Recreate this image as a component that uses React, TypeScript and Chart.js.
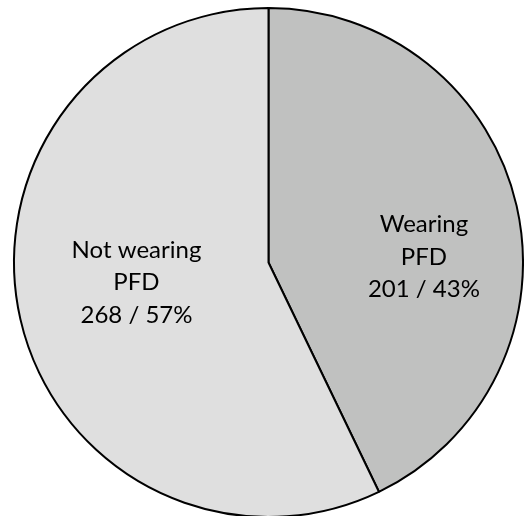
import React, { useEffect, useRef } from "react";
import { Chart, registerables } from "chart.js";

Chart.register(...registerables);

const categories = ["Wearing PFD", "Not wearing PFD"];
const labelLines = [["Wearing", "PFD"], ["Not wearing", "PFD"]];
const counts = [201, 268];
const percents = [43, 57];
const fills = ["#c0c1c0", "#dfdfdf"];
// label placement relative to each slice: fraction of radius, angular shift (deg) from slice mid-angle
const labelRadiusFrac = [0.611, 0.524];
const labelAngleShift = [10.6, 4.7];

const labelPlugin = {
  id: "sliceLabels",
  afterDatasetsDraw(chart: any) {
    const ctx = chart.ctx;
    const meta = chart.getDatasetMeta(0);
    ctx.save();
    ctx.fillStyle = "#000";
    ctx.font = "24px Lato";
    ctx.textAlign = "center";
    ctx.textBaseline = "alphabetic";
    const lineH = 32.5;
    const capH = 17.2;
    meta.data.forEach((arc: any, i: number) => {
      const p = arc.getProps(["x", "y", "startAngle", "endAngle", "outerRadius"], true);
      const mid = (p.startAngle + p.endAngle) / 2 + (labelAngleShift[i] * Math.PI) / 180;
      const r = p.outerRadius * labelRadiusFrac[i];
      const cx = p.x + Math.cos(mid) * r;
      const cy = p.y + Math.sin(mid) * r;
      const lines = [...labelLines[i], `${counts[i]} / ${percents[i]}%`];
      const y0 = cy - ((lines.length - 1) * lineH) / 2 + capH / 2;
      lines.forEach((t, k) => ctx.fillText(t, cx, y0 + k * lineH));
    });
    ctx.restore();
  },
};

export default function App() {
  const ref = useRef<HTMLCanvasElement | null>(null);
  useEffect(() => {
    if (!ref.current) return;
    const chart = new Chart(ref.current, {
      type: "pie",
      data: {
        labels: categories,
        datasets: [
          {
            data: counts,
            backgroundColor: fills,
            borderColor: "#000",
            borderWidth: 2,
          },
        ],
      },
      options: {
        animation: false,
        responsive: false,
        layout: { padding: { left: 13, right: 0, top: 7, bottom: 12 } },
        plugins: { legend: { display: false }, tooltip: { enabled: false } },
      },
      plugins: [labelPlugin],
    });
    return () => chart.destroy();
  }, []);
  return (
    <div style={{ position: "absolute", left: 0, top: 0, width: 524, height: 516, overflow: "hidden", background: "#fff" }}>
      <canvas ref={ref} width={524} height={530} style={{ display: "block" }} />
    </div>
  );
}
